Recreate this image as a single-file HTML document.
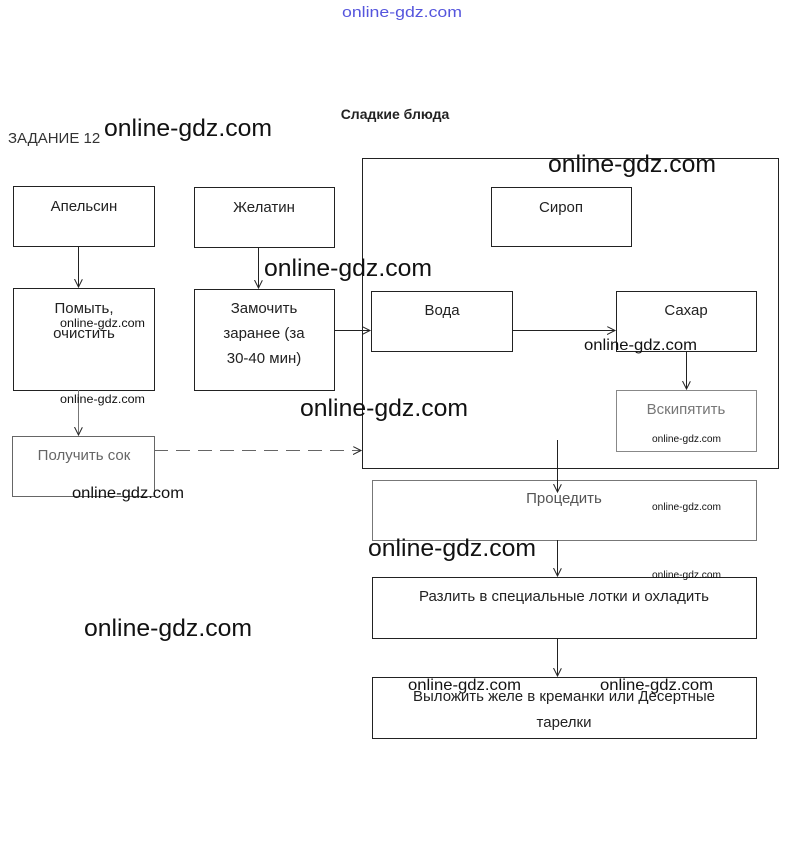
<!DOCTYPE html>
<html><head><meta charset="utf-8"><style>
html,body{margin:0;padding:0;background:#fff;}
svg{display:block;}
text{font-family:"Liberation Sans","DejaVu Sans",sans-serif;}
</style></head><body>
<svg width="804" height="847" xmlns="http://www.w3.org/2000/svg">
<defs><marker id="a" markerWidth="10" markerHeight="10" refX="8" refY="4" orient="auto" markerUnits="userSpaceOnUse"><path d="M0,0 L8,4 L0,8" fill="none" stroke="#222" stroke-width="1"/></marker></defs>
<text x="342" y="17" font-size="15" fill="#5555dd" textLength="120" lengthAdjust="spacingAndGlyphs">online-gdz.com</text>
<text x="395" y="119" font-size="14" font-weight="bold" fill="#222" text-anchor="middle">Сладкие блюда</text>
<text x="8" y="143" font-size="15" fill="#333">ЗАДАНИЕ 12</text>
<g fill="none" stroke="#222" stroke-width="1">
<rect x="362.5" y="158.5" width="416" height="310"/>
<rect x="13.5" y="186.5" width="141" height="60"/>
<rect x="194.5" y="187.5" width="140" height="60"/>
<rect x="491.5" y="187.5" width="140" height="59"/>
<rect x="13.5" y="288.5" width="141" height="102"/>
<rect x="194.5" y="289.5" width="140" height="101"/>
<rect x="371.5" y="291.5" width="141" height="60"/>
<rect x="616.5" y="291.5" width="140" height="60"/>
<rect x="616.5" y="390.5" width="140" height="61" stroke="#888"/>
<rect x="12.5" y="436.5" width="142" height="60" stroke="#666"/>
<rect x="372.5" y="480.5" width="384" height="60" stroke="#777"/>
<rect x="372.5" y="577.5" width="384" height="61"/>
<rect x="372.5" y="677.5" width="384" height="61"/>
</g>
<g stroke="#222" stroke-width="1" marker-end="url(#a)">
<line x1="78.5" y1="246" x2="78.5" y2="287"/>
<line x1="258.5" y1="247" x2="258.5" y2="288"/>
<line x1="334" y1="330.5" x2="370" y2="330.5"/>
<line x1="512" y1="330.5" x2="615" y2="330.5"/>
<line x1="686.5" y1="351" x2="686.5" y2="389"/>
<line x1="78.5" y1="390" x2="78.5" y2="435" stroke="#777"/>
<line x1="154" y1="450.5" x2="361" y2="450.5" stroke="#666" stroke-dasharray="14,8"/>
<line x1="557.5" y1="440" x2="557.5" y2="492"/>
<line x1="557.5" y1="540" x2="557.5" y2="576"/>
<line x1="557.5" y1="638" x2="557.5" y2="676"/>
</g>
<g font-size="15" fill="#222" text-anchor="middle">
<text x="84" y="211">Апельсин</text>
<text x="264" y="212">Желатин</text>
<text x="561" y="212">Сироп</text>
<text x="84" y="313">Помыть,</text>
<text x="84" y="338">очистить</text>
<text x="264" y="313">Замочить</text>
<text x="264" y="338">заранее (за</text>
<text x="264" y="363">30-40 мин)</text>
<text x="442" y="315">Вода</text>
<text x="686" y="315">Сахар</text>
<text x="686" y="414" fill="#777">Вскипятить</text>
<text x="84" y="460" fill="#666">Получить сок</text>
<text x="564" y="503" fill="#555">Процедить</text>
<text x="564" y="601">Разлить в специальные  лотки и охладить</text>
<text x="564" y="701">Выложить желе в креманки или Десертные</text>
<text x="564" y="727">тарелки</text>
</g>
<g fill="#111" lengthAdjust="spacingAndGlyphs">
<text x="104" y="136" font-size="24" textLength="168" lengthAdjust="spacingAndGlyphs">online-gdz.com</text>
<text x="548" y="172" font-size="24" textLength="168" lengthAdjust="spacingAndGlyphs">online-gdz.com</text>
<text x="264" y="276" font-size="24" textLength="168" lengthAdjust="spacingAndGlyphs">online-gdz.com</text>
<text x="300" y="416" font-size="24" textLength="168" lengthAdjust="spacingAndGlyphs">online-gdz.com</text>
<text x="368" y="556" font-size="24" textLength="168" lengthAdjust="spacingAndGlyphs">online-gdz.com</text>
<text x="84" y="636" font-size="24" textLength="168" lengthAdjust="spacingAndGlyphs">online-gdz.com</text>
<text x="72" y="498" font-size="16" textLength="112" lengthAdjust="spacingAndGlyphs">online-gdz.com</text>
<text x="584" y="350" font-size="16" textLength="113" lengthAdjust="spacingAndGlyphs">online-gdz.com</text>
<text x="408" y="690" font-size="16" textLength="113" lengthAdjust="spacingAndGlyphs">online-gdz.com</text>
<text x="600" y="690" font-size="16" textLength="113" lengthAdjust="spacingAndGlyphs">online-gdz.com</text>
<text x="60" y="327" font-size="12" textLength="85" lengthAdjust="spacingAndGlyphs">online-gdz.com</text>
<text x="60" y="403" font-size="12" textLength="85" lengthAdjust="spacingAndGlyphs">online-gdz.com</text>
<text x="652" y="442" font-size="10" textLength="69" lengthAdjust="spacingAndGlyphs">online-gdz.com</text>
<text x="652" y="510" font-size="10" textLength="69" lengthAdjust="spacingAndGlyphs">online-gdz.com</text>
<text x="652" y="578" font-size="10" textLength="69" lengthAdjust="spacingAndGlyphs">online-gdz.com</text>
</g>
</svg>
</body></html>
